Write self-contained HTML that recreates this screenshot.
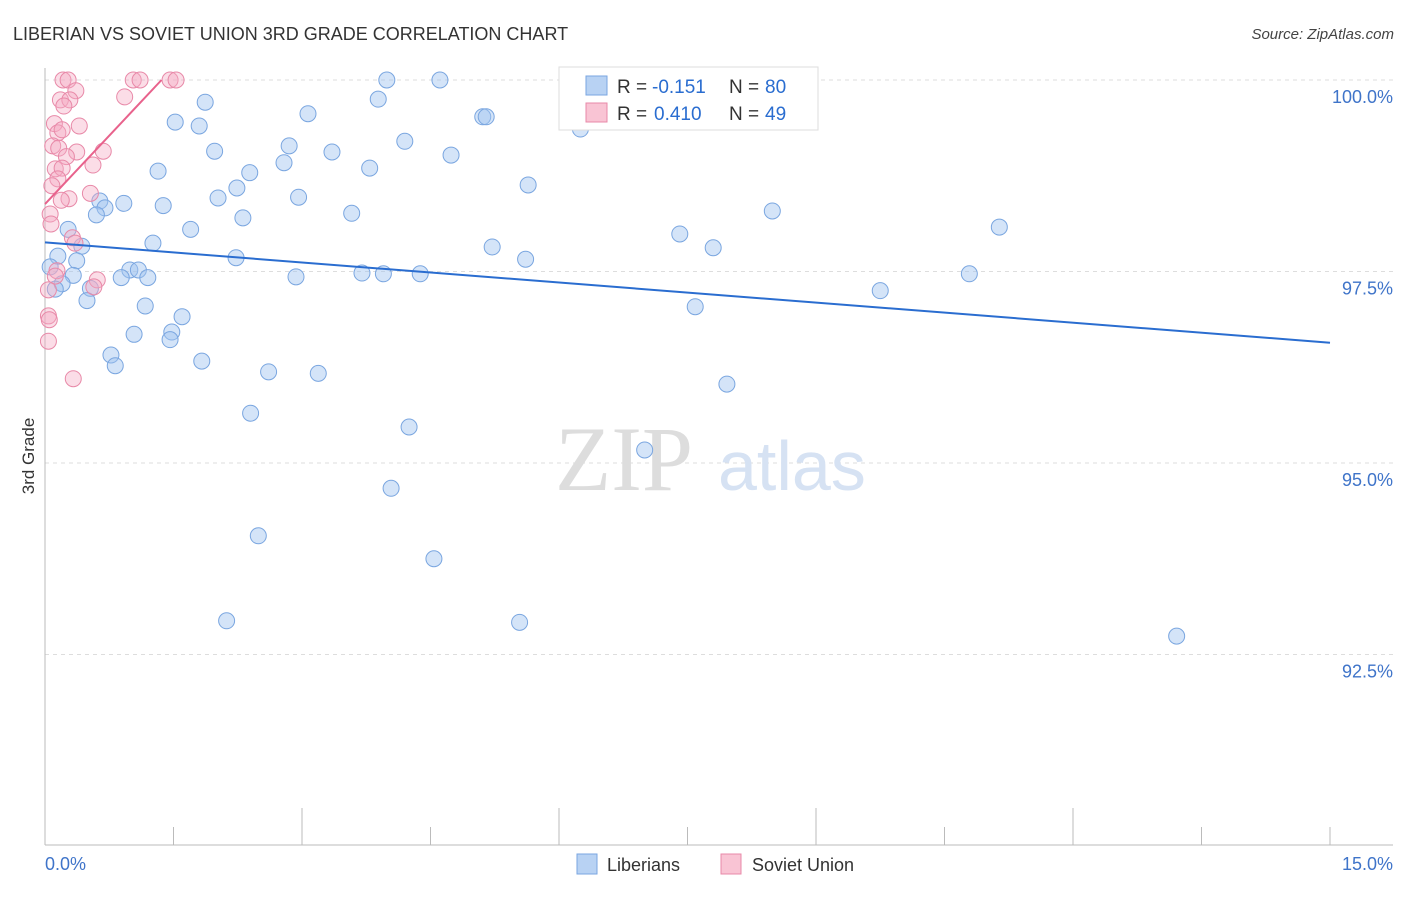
<!DOCTYPE html>
<html><head><meta charset="utf-8"><style>
body{margin:0;background:#fff;font-family:"Liberation Sans",sans-serif}
svg text{font-family:"Liberation Sans",sans-serif}
</style></head><body>
<svg id="chart" width="1406" height="892" xmlns="http://www.w3.org/2000/svg">
<text x="13" y="40" font-size="18" fill="#333">LIBERIAN VS SOVIET UNION 3RD GRADE CORRELATION CHART</text>
<text x="1394" y="39" font-size="15" fill="#444" text-anchor="end" font-style="italic">Source: ZipAtlas.com</text>
<g id="grid"></g>
<g id="axes"></g>
<text x="555" y="490" font-size="92" fill="#ddd" style="font-family:'Liberation Serif',serif">ZIP</text>
<text x="718" y="490" font-size="70" fill="#d6e2f3">atlas</text>
<g id="pts"></g>
<g id="trends"></g>
<text transform="translate(34,456) rotate(-90)" font-size="17" fill="#333" text-anchor="middle">3rd Grade</text>
<g>
<rect x="559" y="67" width="259" height="63" fill="#fff" stroke="#ddd"/>
<rect x="586" y="76" width="21" height="19" fill="#b8d2f3" stroke="#7aa6e0"/>
<rect x="586" y="103" width="21" height="19" fill="#f9c4d4" stroke="#e889a8"/>
<text x="617" y="93" font-size="19" fill="#333">R =</text>
<text x="652" y="93" font-size="19" fill="#2a6dd0">-0.151</text>
<text x="729" y="93" font-size="19" fill="#333">N =</text>
<text x="765" y="93" font-size="19" fill="#2a6dd0">80</text>
<text x="617" y="120" font-size="19" fill="#333">R =</text>
<text x="654" y="120" font-size="19" fill="#2a6dd0">0.410</text>
<text x="729" y="120" font-size="19" fill="#333">N =</text>
<text x="765" y="120" font-size="19" fill="#2a6dd0">49</text>
</g>
<g>
<rect x="577" y="854" width="20" height="20" fill="#b8d2f3" stroke="#7aa6e0"/>
<text x="607" y="871" font-size="18" fill="#333">Liberians</text>
<rect x="721" y="854" width="20" height="20" fill="#f9c4d4" stroke="#e889a8"/>
<text x="752" y="871" font-size="18" fill="#333">Soviet Union</text>
</g>
</svg>
<script>
const blueX=[3.99,4.61,1.87,3.89,3.07,5.11,5.15,1.52,1.80,6.25,4.20,2.85,1.98,3.35,4.74,2.79,3.79,1.32,2.39,2.24,5.64,2.02,2.96,0.64,0.92,1.38,0.70,0.60,3.58,8.49,2.31,1.70,0.27,11.14,7.41,1.26,0.43,5.22,7.80,0.15,2.23,5.61,0.37,0.06,0.99,1.09,3.70,3.95,4.38,10.79,0.33,2.93,0.89,1.20,0.20,0.12,9.75,0.53,0.49,1.17,7.59,1.60,1.48,1.04,1.46,0.77,0.82,1.83,2.61,3.19,7.96,2.40,4.25,7.00,4.04,2.49,4.54,2.12,5.54,13.21];
const blueY=[100.0,100.0,99.71,99.75,99.56,99.52,99.52,99.45,99.40,99.36,99.20,99.14,99.07,99.06,99.02,98.92,98.85,98.81,98.79,98.59,98.63,98.46,98.47,98.42,98.39,98.36,98.33,98.24,98.26,98.29,98.20,98.05,98.05,98.08,97.99,97.87,97.83,97.82,97.81,97.70,97.68,97.66,97.64,97.56,97.52,97.52,97.48,97.47,97.47,97.47,97.45,97.43,97.42,97.42,97.34,97.27,97.25,97.28,97.12,97.05,97.04,96.91,96.71,96.68,96.61,96.41,96.27,96.33,96.19,96.17,96.03,95.65,95.47,95.17,94.67,94.05,93.75,92.94,92.92,92.74];
const pinkX=[0.21,0.27,1.03,1.11,1.46,1.53,0.36,0.93,0.18,0.29,0.22,0.40,0.11,0.15,0.20,0.09,0.16,0.37,0.68,0.25,0.56,0.12,0.20,0.15,0.08,0.53,0.28,0.19,0.06,0.07,0.32,0.35,0.14,0.12,0.61,0.57,0.04,0.04,0.05,0.04,0.33];
const pinkY=[100.0,100.0,100.0,100.0,100.0,100.0,99.86,99.78,99.74,99.74,99.66,99.40,99.43,99.31,99.35,99.14,99.11,99.06,99.07,99.00,98.89,98.84,98.85,98.71,98.62,98.52,98.45,98.43,98.25,98.12,97.94,97.87,97.51,97.44,97.39,97.30,97.26,96.92,96.87,96.59,96.10];
const blueTrendX=[0,15], blueTrendY=[97.88,96.57];
const pinkTrendX=[0,1.36], pinkTrendY=[98.38,100.0];
const yTicks=[100,97.5,95,92.5], yTickLabels=["100.0%","97.5%","95.0%","92.5%"];
const NS="http://www.w3.org/2000/svg";
const X=v=>45+v/15*1285, Y=v=>80+(100-v)/2.5*191.5;
function mk(tag,attrs,parent){const e=document.createElementNS(NS,tag);for(const k in attrs)e.setAttribute(k,attrs[k]);parent.appendChild(e);return e;}
const grid=document.getElementById('grid'),axes=document.getElementById('axes'),pts=document.getElementById('pts'),tr=document.getElementById('trends');
yTicks.forEach((t,i)=>{
 const l=mk('line',{x1:45,x2:1393,y1:Y(t),y2:Y(t),stroke:'#ddd','stroke-dasharray':'4,4'},grid);
 
 
 const tx=mk('text',{x:1393,y:Y(t)+23,'font-size':18,fill:'#3f74c9','text-anchor':'end'},axes);
 tx.textContent=yTickLabels[i];
 
 
});
const ax=mk('line',{x1:45,x2:1393,y1:845,y2:845,stroke:'#bbb'},axes);


const ay=mk('line',{x1:45,x2:45,y1:68,y2:845,stroke:'#bbb'},axes);


for(let i=0;i<=10;i++){const v=i*1.5;const t=mk('line',{x1:X(v),x2:X(v),y1:845,y2:i%2==0&&i>0&&i<10?808:827,stroke:'#bbb'},axes);
 
 }
[["0.0%",45,'start'],["15.0%",1393,'end']].forEach(a=>{const t=mk('text',{x:a[1],y:870,'font-size':18,fill:'#3f74c9','text-anchor':a[2]},axes);t.textContent=a[0];
 
 });
blueX.forEach((v,i)=>{const c=mk('circle',{cx:X(v),cy:Y(blueY[i]),r:8,fill:'rgba(160,195,240,0.45)',stroke:'#7aa6e0','stroke-width':1},pts);
 
 });
pinkX.forEach((v,i)=>{const c=mk('circle',{cx:X(v),cy:Y(pinkY[i]),r:8,fill:'rgba(245,170,195,0.4)',stroke:'#e889a8','stroke-width':1},pts);
 
 });
const bl=mk('line',{x1:X(blueTrendX[0]),y1:Y(blueTrendY[0]),x2:X(blueTrendX[1]),y2:Y(blueTrendY[1]),stroke:'#2a6dd0','stroke-width':2},tr);


const pl=mk('line',{x1:X(pinkTrendX[0]),y1:Y(pinkTrendY[0]),x2:X(pinkTrendX[1]),y2:Y(pinkTrendY[1]),stroke:'#e8628c','stroke-width':2},tr);


</script>
</body></html>
